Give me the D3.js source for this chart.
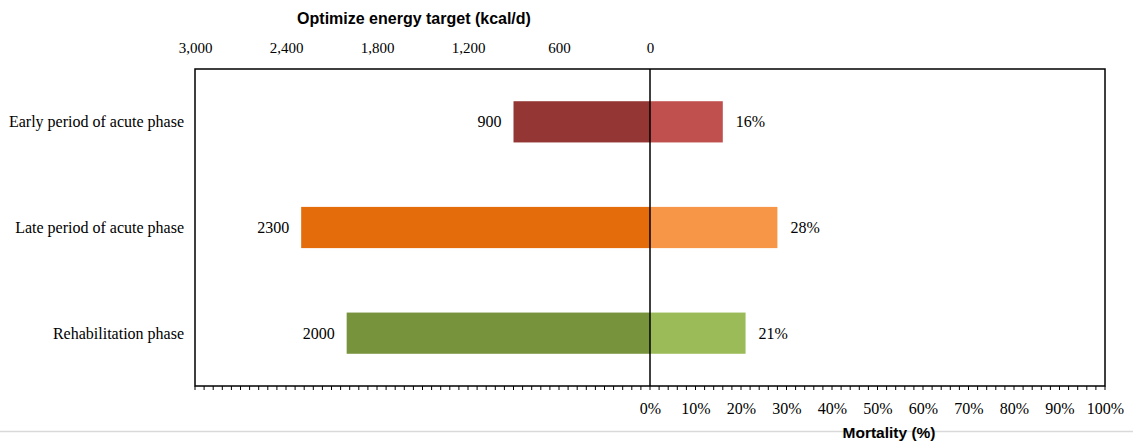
<!DOCTYPE html>
<html><head><meta charset="utf-8">
<script src="https://cdn.jsdelivr.net/npm/d3@7"></script>
<style>body{margin:0;background:#fff}svg{display:block}</style>
</head><body>
<svg id="c" width="1133" height="446"></svg>
<script>
const categories = ["Early period of acute phase", "Late period of acute phase", "Rehabilitation phase"];
const energyValues = [900, 2300, 2000];
const mortalityValues = [16, 28, 21];
const energyTicks = [3000, 2400, 1800, 1200, 600, 0];
const mortalityTicks = [0, 10, 20, 30, 40, 50, 60, 70, 80, 90, 100];
const energyColors = ["#943634", "#e46c0a", "#77933c"];
const mortalityColors = ["#c0504d", "#f79646", "#9bbb59"];

const svg = d3.select("#c");
const L = 195, R = 1105, T = 69, B = 386, Z = 650;
const serif = "'Liberation Serif','Times New Roman',serif";
const sans = "'Liberation Sans',Arial,sans-serif";

const xE = d3.scaleLinear().domain([0, 3000]).range([Z, L]);
const xM = d3.scaleLinear().domain([0, 100]).range([Z, R]);
const xAll = d3.scaleLinear().domain([-100, 100]).range([L, R]);
const y = d3.scaleBand().domain(categories).range([T, B]).paddingInner(0.61).paddingOuter(0.305);

// separator line
svg.append("line").attr("x1", 0).attr("x2", 1133).attr("y1", 431.5).attr("y2", 431.5)
  .attr("stroke", "#d9d9d9").attr("stroke-width", 1.5);

// bars
svg.selectAll(".be").data(categories).enter().append("rect")
  .attr("x", (d, i) => xE(energyValues[i])).attr("y", d => y(d))
  .attr("width", (d, i) => Z - xE(energyValues[i])).attr("height", y.bandwidth())
  .attr("fill", (d, i) => energyColors[i]);
svg.selectAll(".bm").data(categories).enter().append("rect")
  .attr("x", Z).attr("y", d => y(d))
  .attr("width", (d, i) => xM(mortalityValues[i]) - Z).attr("height", y.bandwidth())
  .attr("fill", (d, i) => mortalityColors[i]);

// value labels
svg.selectAll(".le").data(categories).enter().append("text")
  .attr("x", (d, i) => xE(energyValues[i]) - 12).attr("y", d => y(d) + y.bandwidth() / 2)
  .attr("dy", "0.35em").attr("text-anchor", "end")
  .style("font-family", serif).style("font-size", "16px").attr("fill", "#000")
  .text((d, i) => energyValues[i]);
svg.selectAll(".lm").data(categories).enter().append("text")
  .attr("x", (d, i) => xM(mortalityValues[i]) + 13).attr("y", d => y(d) + y.bandwidth() / 2)
  .attr("dy", "0.35em").attr("text-anchor", "start")
  .style("font-family", serif).style("font-size", "16px").attr("fill", "#000")
  .text((d, i) => mortalityValues[i] + "%");

// category labels
svg.selectAll(".lc").data(categories).enter().append("text")
  .attr("x", 184).attr("y", d => y(d) + y.bandwidth() / 2)
  .attr("dy", "0.35em").attr("text-anchor", "end")
  .style("font-family", serif).style("font-size", "16px").attr("fill", "#000")
  .text(d => d);

// bottom minor ticks
const minor = d3.range(-100, 100.001, 2);
svg.selectAll(".mt").data(minor).enter().append("line")
  .attr("x1", d => xAll(d)).attr("x2", d => xAll(d))
  .attr("y1", B).attr("y2", B + 4).attr("stroke", "#000").attr("stroke-width", 1);

// frame
svg.append("rect").attr("x", L).attr("y", T).attr("width", R - L).attr("height", B - T)
  .attr("fill", "none").attr("stroke", "#000").attr("stroke-width", 1.5);
svg.append("line").attr("x1", Z).attr("x2", Z).attr("y1", T).attr("y2", B)
  .attr("stroke", "#000").attr("stroke-width", 1.5);

// top axis labels
const topAx = svg.append("g").attr("transform", `translate(0,${T - 21})`)
  .call(d3.axisTop(xE).tickValues(energyTicks).tickSize(0).tickFormat(d3.format(",")));
topAx.select(".domain").remove();
topAx.selectAll("text").style("font-family", serif).style("font-size", "15px").attr("fill", "#000").attr("dy", "0.35em").attr("y", 0);

// bottom axis labels
const botAx = svg.append("g").attr("transform", `translate(0,${B + 22})`)
  .call(d3.axisBottom(xM).tickValues(mortalityTicks).tickSize(0).tickFormat(d => d + "%"));
botAx.select(".domain").remove();
botAx.selectAll("text").style("font-family", serif).style("font-size", "16px").attr("fill", "#000").attr("dy", "0.35em").attr("y", 0);

// titles
svg.append("text").attr("x", 414).attr("y", 18).attr("dy", "0.35em").attr("text-anchor", "middle")
  .style("font-family", sans).style("font-size", "16px").style("font-weight", "bold")
  .text("Optimize energy target (kcal/d)");
svg.append("text").attr("x", 889).attr("y", 433).attr("dy", "0.35em").attr("text-anchor", "middle")
  .style("font-family", sans).style("font-size", "15.5px").style("font-weight", "bold")
  .text("Mortality (%)");
</script>
</body></html>
